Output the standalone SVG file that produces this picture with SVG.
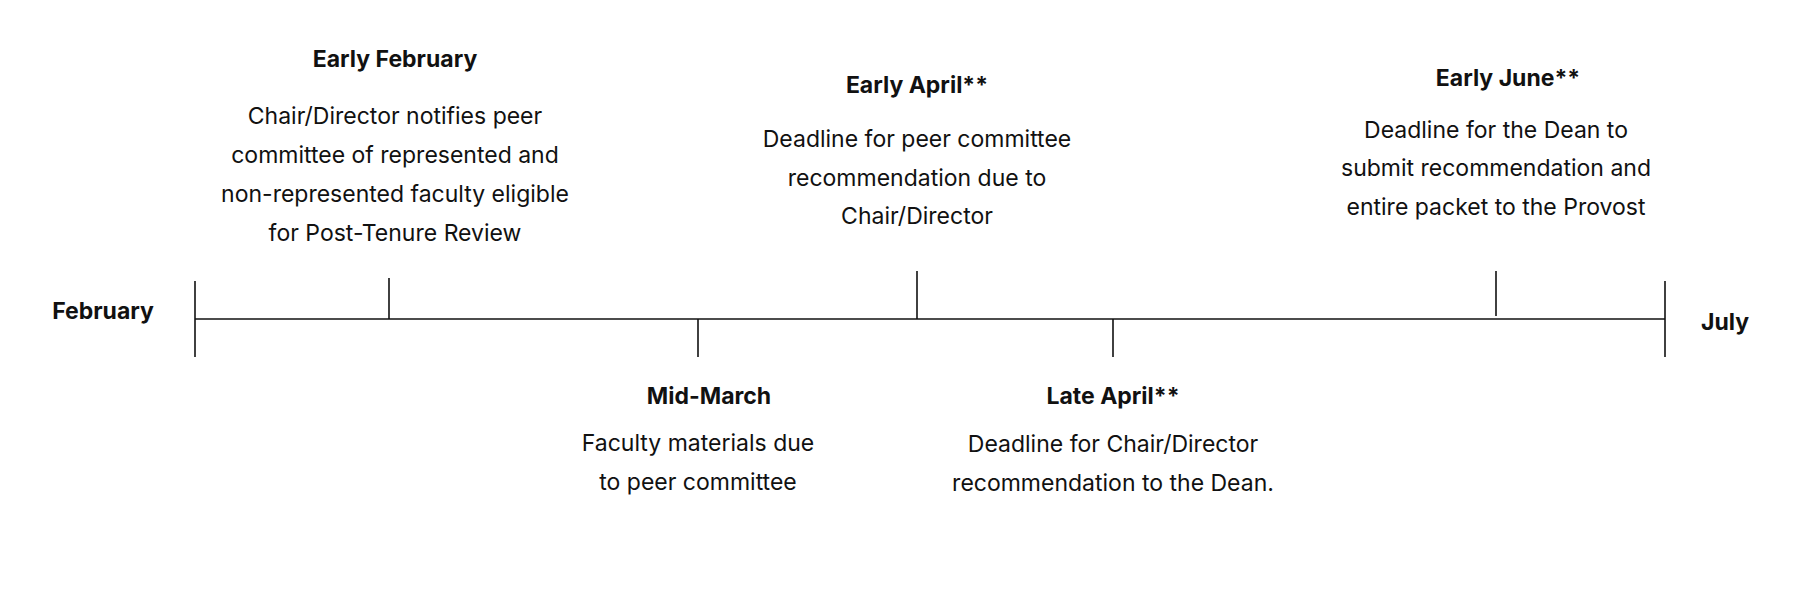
<svg xmlns="http://www.w3.org/2000/svg" width="1799" height="615" viewBox="0 0 1799 615">
<style>
text{font-family:Inter,"Liberation Sans",sans-serif;font-size:23px;fill:#111;text-anchor:middle;dominant-baseline:middle}
.b{font-weight:bold}
line{stroke:#111;stroke-width:1.6}
</style>
<rect width="1799" height="615" fill="#fff"/>
<g id="connectors">
<line x1="195" y1="319" x2="1665" y2="319"/>
<line x1="195" y1="281" x2="195" y2="357"/>
<line x1="1665" y1="281" x2="1665" y2="357"/>
<line x1="389" y1="278" x2="389" y2="319"/>
<line x1="698" y1="319" x2="698" y2="357"/>
<line x1="917" y1="271" x2="917" y2="319"/>
<line x1="1113" y1="319" x2="1113" y2="357"/>
<line x1="1496" y1="271" x2="1496" y2="316"/>
</g>
<g id="feb"><text class="b" x="103" y="313">February</text></g>
<g id="jul"><text class="b" x="1725" y="324">July</text></g>
<g id="earlyfeb"><text class="b" x="395" y="61">Early February</text>
<text x="395" y="118">Chair/Director notifies peer</text>
<text x="395" y="157">committee of represented and</text>
<text x="395" y="196">non-represented faculty eligible</text>
<text x="395" y="235">for Post-Tenure Review</text></g>
<g id="earlyapril"><text class="b" x="917" y="87">Early April**</text>
<text x="917" y="141">Deadline for peer committee</text>
<text x="917" y="180">recommendation due to</text>
<text x="917" y="218">Chair/Director</text></g>
<g id="earlyjune"><text class="b" x="1508" y="80">Early June**</text>
<text x="1496" y="132">Deadline for the Dean to</text>
<text x="1496" y="170">submit recommendation and</text>
<text x="1496" y="209">entire packet to the Provost</text></g>
<g id="midmarch"><text class="b" x="709" y="398">Mid-March</text>
<text x="698" y="445">Faculty materials due</text>
<text x="698" y="484">to peer committee</text></g>
<g id="lateapril"><text class="b" x="1113" y="398">Late April**</text>
<text x="1113" y="446">Deadline for Chair/Director</text>
<text x="1113" y="485">recommendation to the Dean.</text></g>
</svg>
